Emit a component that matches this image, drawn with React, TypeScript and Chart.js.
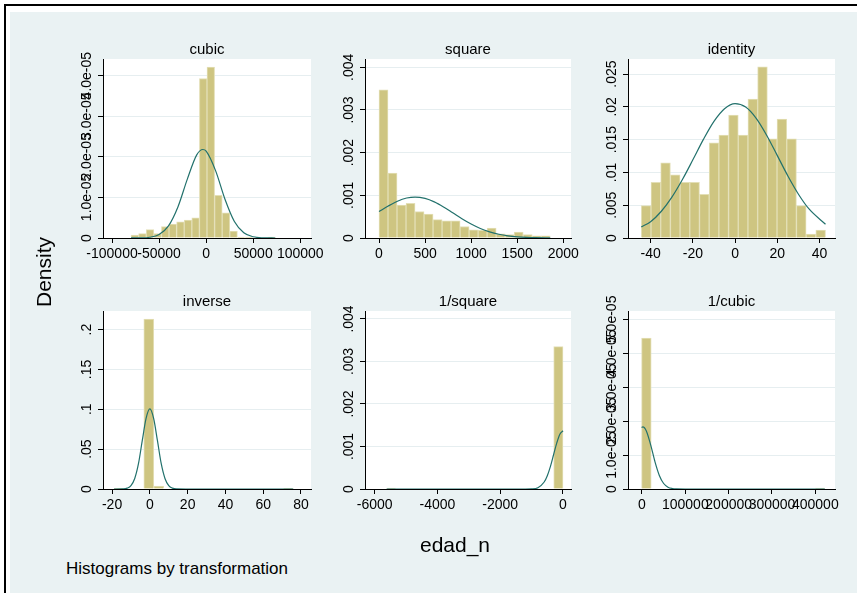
import React, { useEffect, useRef } from 'react';
import { Chart, registerables } from 'chart.js';

Chart.register(...registerables);

const FONT = '"Liberation Sans", Arial, Helvetica, sans-serif';
const BG = '#EAF2F3';
const GRID = '#E6EEF0';
const BAR_FILL = '#CEC581';
const BAR_EDGE = '#E3DFB6';
const CURVE = '#22716C';

// ---------- cubic ----------
const cubicXRange = [-109600, 111400];
const cubicYMax = 4.41e-5;
const cubicXTicks = [-100000, -50000, 0, 50000, 100000];
const cubicXLabels = ['-100000', '-50000', '0', '50000', '100000'];
const cubicYTicks = [0, 1e-5, 2e-5, 3e-5, 4e-5];
const cubicYLabels = ['0', '1.0e-05', '2.0e-05', '3.0e-05', '4.0e-05'];
const cubicBinStart = -79800;
const cubicBinWidth = 8070;
const cubicDensity = [0.074e-5, 0.107e-5, 0.205e-5, 0.107e-5, 0.28e-5, 0.34e-5, 0.40e-5, 0.44e-5, 0.50e-5, 3.93e-5, 4.21e-5, 1.05e-5, 0.62e-5, 0.17e-5, 0.025e-5, 0.025e-5, 0, 0, 0.025e-5];
const cubicCurveX = [-79800, -70000, -60000, -50000, -40000, -30000, -20000, -10000, -3500, 0, 10000, 20000, 30000, 40000, 50000, 60000, 73500];
const cubicCurveY = [0.001e-5, 0.003e-5, 0.0185e-5, 0.086e-5, 0.30e-5, 0.765e-5, 1.45e-5, 2.047e-5, 2.18e-5, 2.14e-5, 1.66e-5, 0.956e-5, 0.408e-5, 0.129e-5, 0.0305e-5, 0.0054e-5, 0.0002e-5];

// ---------- square ----------
const squareXRange = [-152, 2084];
const squareYMax = 0.004195;
const squareXTicks = [0, 500, 1000, 1500, 2000];
const squareXLabels = ['0', '500', '1000', '1500', '2000'];
const squareYTicks = [0, 0.001, 0.002, 0.003, 0.004];
const squareYLabels = ['0', '.001', '.002', '.003', '.004'];
const squareBinStart = 0;
const squareBinWidth = 97.8;
const squareDensity = [0.00347, 0.00152, 0.00077, 0.00081, 0.00062, 0.00056, 0.00043, 0.0004, 0.0004, 0.00027, 0.00019, 0.00018, 0.00023, 0.0001, 0.00008, 0.00014, 0.00008, 0.00005, 0.00005];
const squareCurveX = [0, 100, 200, 300, 391, 500, 600, 700, 800, 900, 1000, 1100, 1200, 1300, 1400, 1500, 1600, 1700, 1859];
const squareCurveY = [0.00062, 0.00075, 0.000863, 0.000937, 0.00096, 0.000927, 0.000846, 0.000728, 0.00059, 0.000452, 0.000327, 0.000223, 0.000144, 0.0000871, 0.0000502, 0.0000271, 0.0000138, 0.0000067, 0.0000017];

// ---------- identity ----------
const identityXRange = [-50.7, 47.3];
const identityYMax = 0.0273;
const identityXTicks = [-40, -20, 0, 20, 40];
const identityXLabels = ['-40', '-20', '0', '20', '40'];
const identityYTicks = [0, 0.005, 0.01, 0.015, 0.02, 0.025];
const identityYLabels = ['0', '.005', '.01', '.015', '.02', '.025'];
const identityBinStart = -44.4;
const identityBinWidth = 4.59;
const identityDensity = [0.00493, 0.00849, 0.01148, 0.00965, 0.00849, 0.00849, 0.00666, 0.01453, 0.0157, 0.01875, 0.0157, 0.0212, 0.0261, 0.01514, 0.01814, 0.01514, 0.00493, 0.0006, 0.00122];
const identityCurveX = [-44.4, -40, -35, -30, -25, -20, -15, -10, -5, 0, 5, 10, 15, 20, 25, 30, 35, 42.8];
const identityCurveY = [0.0017, 0.00248, 0.00404, 0.00619, 0.00888, 0.01192, 0.01504, 0.01779, 0.01972, 0.0205, 0.01997, 0.01825, 0.01564, 0.01256, 0.00946, 0.00668, 0.00443, 0.0021];

// ---------- inverse ----------
const inverseXRange = [-24.8, 85.3];
const inverseYMax = 0.2233;
const inverseXTicks = [-20, 0, 20, 40, 60, 80];
const inverseXLabels = ['-20', '0', '20', '40', '60', '80'];
const inverseYTicks = [0, 0.05, 0.1, 0.15, 0.2];
const inverseYLabels = ['0', '.05', '.1', '.15', '.2'];
const inverseBinStart = -19.0;
const inverseBinWidth = 5.27;
const inverseDensity = [0.0005, 0, 0, 0.2133, 0.0037, 0, 0, 0, 0, 0, 0, 0, 0, 0, 0, 0, 0, 0.0008];
const inverseCurveX = [-19, -14, -12, -10, -8, -6, -4, -2, 0, 2, 4, 6, 8, 10, 12, 14, 19, 75.9];
const inverseCurveY = [0, 0.0002, 0.00105, 0.0042, 0.0132, 0.032, 0.0609, 0.0885, 0.1004, 0.0885, 0.0609, 0.032, 0.0132, 0.0042, 0.00105, 0.0002, 0, 0];

// ---------- 1/square ----------
const invSquareXRange = [-6310, 255];
const invSquareYMax = 0.004188;
const invSquareXTicks = [-6000, -4000, -2000, 0];
const invSquareXLabels = ['-6000', '-4000', '-2000', '0'];
const invSquareYTicks = [0, 0.001, 0.002, 0.003, 0.004];
const invSquareYLabels = ['0', '.001', '.002', '.003', '.004'];
const invSquareBinStart = -5620;
const invSquareBinWidth = 295.8;
const invSquareDensity = [0.00002, 0, 0, 0, 0, 0, 0, 0, 0, 0, 0, 0, 0, 0, 0, 0, 0, 0, 0.00335];
const invSquareCurveX = [-5620, -1200, -1000, -800, -600, -500, -400, -300, -200, -100, 0];
const invSquareCurveY = [0, 0, 0.0000037, 0.0000313, 0.000165, 0.000313, 0.000533, 0.000806, 0.00108, 0.00129, 0.00137];

// ---------- 1/cubic ----------
const invCubicXRange = [-32300, 445400];
const invCubicYMax = 5.245e-5;
const invCubicXTicks = [0, 100000, 200000, 300000, 400000];
const invCubicXLabels = ['0', '100000', '200000', '300000', '400000'];
const invCubicYTicks = [0, 1e-5, 2e-5, 3e-5, 4e-5, 5e-5];
const invCubicYLabels = ['0', '1.0e-05', '2.0e-05', '3.0e-05', '4.0e-05', '5.0e-05'];
const invCubicBinStart = -1000;
const invCubicBinWidth = 22260;
const invCubicDensity = [4.45e-5, 0, 0, 0, 0, 0, 0, 0, 0, 0, 0, 0, 0, 0, 0, 0, 0, 0, 0.03e-5];
const invCubicCurveX = [-1000, 2000, 10000, 20000, 30000, 40000, 50000, 60000, 70000, 80000, 100000, 422000];
const invCubicCurveY = [1.81e-5, 1.83e-5, 1.71e-5, 1.30e-5, 0.80e-5, 0.40e-5, 0.162e-5, 0.053e-5, 0.014e-5, 0.003e-5, 0, 0];

type Spec = {
  title: string;
  xRange: number[];
  yMax: number;
  xTicks: number[];
  xLabels: string[];
  yTicks: number[];
  yLabels: string[];
  binStart: number;
  binWidth: number;
  density: number[];
  curveX: number[];
  curveY: number[];
};

const PANELS: Spec[] = [
  { title: 'cubic', xRange: cubicXRange, yMax: cubicYMax, xTicks: cubicXTicks, xLabels: cubicXLabels, yTicks: cubicYTicks, yLabels: cubicYLabels, binStart: cubicBinStart, binWidth: cubicBinWidth, density: cubicDensity, curveX: cubicCurveX, curveY: cubicCurveY },
  { title: 'square', xRange: squareXRange, yMax: squareYMax, xTicks: squareXTicks, xLabels: squareXLabels, yTicks: squareYTicks, yLabels: squareYLabels, binStart: squareBinStart, binWidth: squareBinWidth, density: squareDensity, curveX: squareCurveX, curveY: squareCurveY },
  { title: 'identity', xRange: identityXRange, yMax: identityYMax, xTicks: identityXTicks, xLabels: identityXLabels, yTicks: identityYTicks, yLabels: identityYLabels, binStart: identityBinStart, binWidth: identityBinWidth, density: identityDensity, curveX: identityCurveX, curveY: identityCurveY },
  { title: 'inverse', xRange: inverseXRange, yMax: inverseYMax, xTicks: inverseXTicks, xLabels: inverseXLabels, yTicks: inverseYTicks, yLabels: inverseYLabels, binStart: inverseBinStart, binWidth: inverseBinWidth, density: inverseDensity, curveX: inverseCurveX, curveY: inverseCurveY },
  { title: '1/square', xRange: invSquareXRange, yMax: invSquareYMax, xTicks: invSquareXTicks, xLabels: invSquareXLabels, yTicks: invSquareYTicks, yLabels: invSquareYLabels, binStart: invSquareBinStart, binWidth: invSquareBinWidth, density: invSquareDensity, curveX: invSquareCurveX, curveY: invSquareCurveY },
  { title: '1/cubic', xRange: invCubicXRange, yMax: invCubicYMax, xTicks: invCubicXTicks, xLabels: invCubicXLabels, yTicks: invCubicYTicks, yLabels: invCubicYLabels, binStart: invCubicBinStart, binWidth: invCubicBinWidth, density: invCubicDensity, curveX: invCubicCurveX, curveY: invCubicCurveY },
];

// plot-area boxes in page pixels (layout only)
const BOXES = [
  { L: 103, R: 311, T: 59, B: 238 },
  { L: 365, R: 571, T: 59, B: 238 },
  { L: 628, R: 835, T: 59, B: 238 },
  { L: 103, R: 311, T: 311, B: 489 },
  { L: 365, R: 571, T: 311, B: 489 },
  { L: 628, R: 835, T: 311, B: 489 },
];

const YW = 50;
const TH = 22;
const XH = 30;
const TICK_FONT = 14;

const plotBackground = {
  id: 'plotBackground',
  beforeDraw(chart: any) {
    const { ctx, chartArea: a } = chart;
    ctx.save();
    ctx.fillStyle = '#ffffff';
    ctx.fillRect(a.left, a.top, a.right - a.left, a.bottom - a.top);
    ctx.restore();
  },
};

function Panel({ spec, box }: { spec: Spec; box: { L: number; R: number; T: number; B: number } }) {
  const ref = useRef<HTMLCanvasElement>(null);
  const W = box.R - box.L;
  const H = box.B - box.T;
  const cw = W + 2 * YW;
  const ch = TH + H + XH;

  useEffect(() => {
    const canvas = ref.current;
    if (!canvas) return;
    const m = document.createElement('canvas').getContext('2d')!;
    m.font = `${TICK_FONT}px ${FONT}`;
    const widest = Math.max(...spec.yLabels.map((l) => m.measureText(l).width));
    const yPad = 11 - widest / 2;

    const bars = spec.density.map((d, i) => ({ x: spec.binStart + (i + 0.5) * spec.binWidth, y: d }));
    const curve = spec.curveX.map((x, i) => ({ x, y: spec.curveY[i] }));

    const chart = new Chart(canvas, {
      type: 'bar',
      data: {
        datasets: [
          {
            type: 'line',
            data: curve,
            borderColor: CURVE,
            borderWidth: 1.2,
            pointRadius: 0,
            cubicInterpolationMode: 'monotone',
            fill: false,
            order: 0,
          } as any,
          {
            type: 'bar',
            data: bars,
            backgroundColor: BAR_FILL,
            borderColor: BAR_EDGE,
            borderWidth: 1,
            barPercentage: 1,
            categoryPercentage: 1,
            grouped: false,
            order: 1,
          } as any,
        ],
      },
      options: {
        responsive: false,
        animation: false,
        devicePixelRatio: 1,
        layout: { padding: 0 },
        events: [],
        plugins: {
          legend: { display: false },
          tooltip: { enabled: false },
          title: {
            display: true,
            text: spec.title,
            color: '#000',
            font: { family: FONT, size: 15, weight: 'normal', lineHeight: 1.2 },
            padding: { top: 3.5, bottom: 0.5 },
          },
        },
        scales: {
          x: {
            type: 'linear',
            min: spec.xRange[0],
            max: spec.xRange[1],
            offset: false,
            afterBuildTicks: (s: any) => {
              s.ticks = spec.xTicks.map((v) => ({ value: v }));
            },
            afterFit: (s: any) => {
              s.height = XH;
            },
            grid: { offset: false, drawOnChartArea: false, drawTicks: true, tickLength: 5, tickColor: '#000' },
            border: { display: true, color: '#000', width: 1, z: 1 },
            ticks: {
              autoSkip: false,
              minRotation: 0,
              maxRotation: 0,
              padding: 3,
              color: '#000',
              font: { family: FONT, size: TICK_FONT },
              callback: (_v: any, i: number) => spec.xLabels[i],
            },
          },
          y: {
            type: 'linear',
            position: 'left',
            min: 0,
            max: spec.yMax,
            afterBuildTicks: (s: any) => {
              s.ticks = spec.yTicks.map((v) => ({ value: v }));
            },
            afterFit: (s: any) => {
              s.width = YW;
            },
            grid: {
              color: (c: any) => (c.tick && c.tick.value === 0 ? 'rgba(0,0,0,0)' : GRID),
              drawTicks: true,
              tickLength: 5,
              tickColor: '#000',
            },
            border: { display: true, color: '#000', width: 1, z: 1 },
            ticks: {
              autoSkip: false,
              minRotation: 90,
              maxRotation: 90,
              crossAlign: 'center',
              padding: yPad,
              color: '#000',
              font: { family: FONT, size: TICK_FONT },
              callback: (_v: any, i: number) => spec.yLabels[i],
            },
          },
          y2: {
            type: 'linear',
            position: 'right',
            display: true,
            grid: { display: false },
            border: { display: false },
            ticks: { display: false },
            afterFit: (s: any) => {
              s.width = YW;
            },
          },
        },
      } as any,
      plugins: [plotBackground],
    });
    return () => chart.destroy();
  }, []);

  return (
    <canvas
      ref={ref}
      width={cw}
      height={ch}
      style={{ position: 'absolute', left: box.L - YW, top: box.T - TH, width: cw, height: ch }}
    />
  );
}

export default function App() {
  return (
    <div
      style={{
        position: 'absolute',
        left: 0,
        top: 0,
        width: 857,
        height: 593,
        background: '#ffffff',
        overflow: 'hidden',
        fontFamily: FONT,
      }}
    >
      <div
        style={{
          position: 'absolute',
          left: 4,
          top: 4,
          width: 900,
          height: 700,
          borderLeft: '2px solid #000',
          borderTop: '2px solid #000',
        }}
      />
      <div style={{ position: 'absolute', left: 10, top: 12, width: 847, height: 581, background: BG }} />
      {PANELS.map((p, i) => (
        <Panel key={i} spec={p} box={BOXES[i]} />
      ))}
      <div
        style={{
          position: 'absolute',
          left: 44,
          top: 272,
          transform: 'translate(-50%, -50%) rotate(-90deg)',
          fontSize: 21,
          color: '#000',
          whiteSpace: 'nowrap',
        }}
      >
        Density
      </div>
      <div
        style={{
          position: 'absolute',
          left: 455,
          top: 545,
          transform: 'translate(-50%, -50%)',
          fontSize: 21,
          color: '#000',
          whiteSpace: 'nowrap',
        }}
      >
        edad_n
      </div>
      <div
        style={{
          position: 'absolute',
          left: 66,
          top: 569,
          transform: 'translateY(-50%)',
          fontSize: 17,
          color: '#000',
          whiteSpace: 'nowrap',
        }}
      >
        Histograms by transformation
      </div>
    </div>
  );
}
